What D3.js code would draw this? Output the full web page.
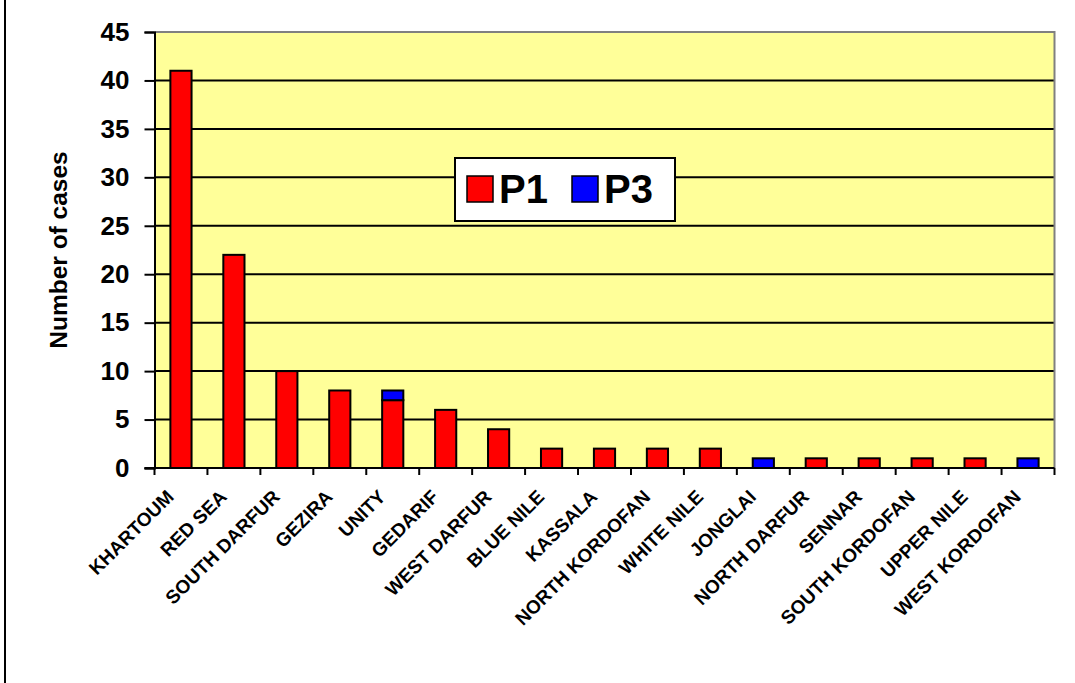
<!DOCTYPE html>
<html>
<head>
<meta charset="utf-8">
<script src="https://cdn.jsdelivr.net/npm/d3@7"></script>
<style>
  html, body { margin: 0; padding: 0; background: #ffffff; }
  svg { display: block; font-family: "Liberation Sans", Arial, sans-serif; font-weight: bold; }
</style>
</head>
<body>
<svg id="chart" width="1075" height="683"></svg>
<script>
// Cases by state, split by type
const states = ["KHARTOUM", "RED SEA", "SOUTH DARFUR", "GEZIRA", "UNITY", "GEDARIF",
  "WEST DARFUR", "BLUE NILE", "KASSALA", "NORTH KORDOFAN", "WHITE NILE", "JONGLAI",
  "NORTH DARFUR", "SENNAR", "SOUTH KORDOFAN", "UPPER NILE", "WEST KORDOFAN"];
const p1Values = [41, 22, 10, 8, 7, 6, 4, 2, 2, 2, 2, 0, 1, 1, 1, 1, 0];
const p3Values = [0, 0, 0, 0, 1, 0, 0, 0, 0, 0, 0, 1, 0, 0, 0, 0, 1];
const seriesNames = ["P1", "P3"];
const seriesColors = ["#ff0000", "#0000ff"];
const yTicks = [0, 5, 10, 15, 20, 25, 30, 35, 40, 45];

const svg = d3.select("#chart");
const plot = { left: 154.5, right: 1054.5, top: 32, bottom: 468 };

const x = d3.scaleBand().domain(states).range([plot.left, plot.right]).paddingInner(0).paddingOuter(0);
const y = d3.scaleLinear().domain([0, 45]).range([plot.bottom, plot.top]);

// frame edge on the left
svg.append("line").attr("x1", 5).attr("x2", 5).attr("y1", 0).attr("y2", 683)
  .attr("stroke", "#000").attr("stroke-width", 2);

// plot background
svg.append("rect").attr("x", plot.left).attr("y", plot.top)
  .attr("width", plot.right - plot.left).attr("height", plot.bottom - plot.top)
  .attr("fill", "#ffff99");

// horizontal gridlines
svg.append("g").selectAll("line").data(yTicks.filter(d => d > 0 && d < 45)).join("line")
  .attr("x1", plot.left).attr("x2", plot.right)
  .attr("y1", d => y(d)).attr("y2", d => y(d))
  .attr("stroke", "#000").attr("stroke-width", 2);

// grey top and right plot border
svg.append("path")
  .attr("d", `M${plot.left},${y(45)}H${plot.right}V${plot.bottom}`)
  .attr("fill", "none").attr("stroke", "#808080").attr("stroke-width", 2);

// stacked bars (P1 at the bottom, P3 on top)
const rows = states.map((s, i) => ({ state: s, P1: p1Values[i], P3: p3Values[i] }));
const stacked = d3.stack().keys(seriesNames)(rows);
const barW = x.bandwidth() / 2.5;
stacked.forEach((layer, li) => {
  svg.append("g").selectAll("rect")
    .data(layer.filter(d => d[1] - d[0] > 0))
    .join("rect")
    .attr("x", d => x(d.data.state) + x.bandwidth() / 2 - barW / 2)
    .attr("width", barW)
    .attr("y", d => y(d[1]))
    .attr("height", d => y(d[0]) - y(d[1]))
    .attr("fill", seriesColors[li])
    .attr("stroke", "#000").attr("stroke-width", 2);
});

// y axis
const yAxis = d3.axisLeft(y).tickValues(yTicks).tickSize(10).tickPadding(15);
const gy = svg.append("g").attr("transform", `translate(${plot.left},0)`).call(yAxis);
gy.select(".domain").attr("stroke", "#000").attr("stroke-width", 2);
gy.selectAll(".tick line").attr("stroke", "#000").attr("stroke-width", 2);
gy.selectAll(".tick text").attr("font-size", 26).attr("font-weight", "bold")
  .attr("font-family", "Liberation Sans, Arial, sans-serif").attr("fill", "#000");

// x axis: ticks at category boundaries
svg.append("line").attr("x1", plot.left - 10).attr("x2", plot.right)
  .attr("y1", plot.bottom).attr("y2", plot.bottom)
  .attr("stroke", "#000").attr("stroke-width", 2);
const bounds = states.map(s => x(s)).concat([plot.right]);
svg.append("g").selectAll("line").data(bounds).join("line")
  .attr("x1", d => d).attr("x2", d => d)
  .attr("y1", plot.bottom).attr("y2", plot.bottom + 7)
  .attr("stroke", "#000").attr("stroke-width", 2);

// category labels
svg.append("g").selectAll("text").data(states).join("text")
  .attr("transform", d => `translate(${x(d) + x.bandwidth() / 2 - 6},${plot.bottom + 30}) rotate(-45)`)
  .attr("text-anchor", "end")
  .attr("font-size", 19)
  .attr("fill", "#000")
  .text(d => d);

// y axis title
svg.append("text")
  .attr("transform", `translate(67,250) rotate(-90)`)
  .attr("text-anchor", "middle")
  .attr("font-size", 24.5)
  .attr("fill", "#000")
  .text("Number of cases");

// legend
const legend = svg.append("g");
legend.append("rect").attr("x", 455).attr("y", 158).attr("width", 220).attr("height", 63)
  .attr("fill", "#fff").attr("stroke", "#000").attr("stroke-width", 2);
const legendX = [467, 572];
seriesNames.forEach((name, i) => {
  legend.append("rect").attr("x", legendX[i]).attr("y", 176).attr("width", 26).attr("height", 26)
    .attr("fill", seriesColors[i]).attr("stroke", "#000").attr("stroke-width", 1.5);
  legend.append("text").attr("x", legendX[i] + 32).attr("y", 203)
    .attr("font-size", 40).attr("fill", "#000").text(name);
});
</script>
</body>
</html>
